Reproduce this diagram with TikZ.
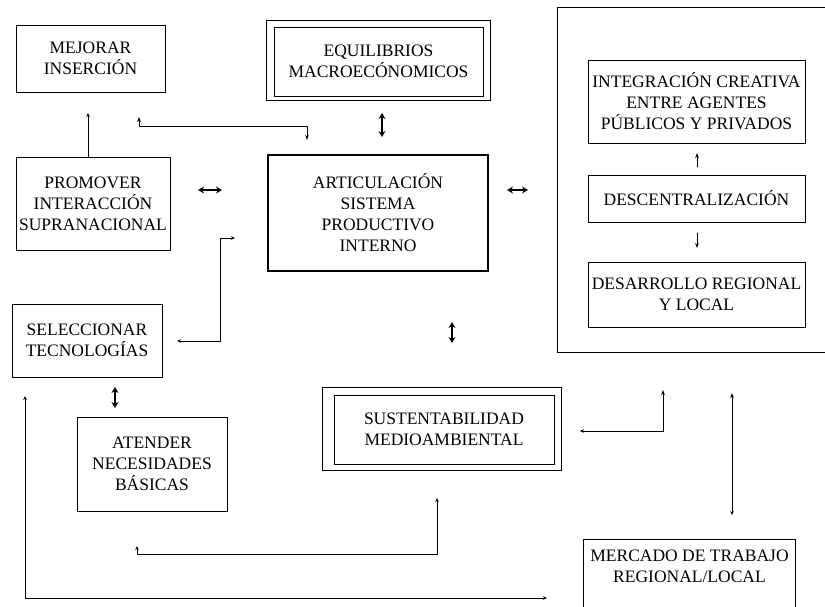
\documentclass[tikz,border=0pt]{standalone}
\usepackage{fontspec}
\setmainfont{Liberation Serif}
\usetikzlibrary{arrows.meta}

\begin{document}
\begin{tikzpicture}[x=1pt, y=-1pt, font=\fontsize{17.5}{21}\selectfont, line join=round, line cap=round,
		tipo/.tip={Stealth[open,length=4pt,width=3.6pt]},
		tipf/.tip={Stealth[length=5pt,width=3.6pt]},
		box/.style={draw, line width=0.8pt, line join=miter, align=center, inner sep=0pt},
		con/.style={line width=0.8pt},
		frame/.style={line width=0.8pt, line join=miter},
		dbl/.style={line width=1.4pt, {Stealth[open,length=6pt,width=7pt]}-{Stealth[open,length=6pt,width=7pt]}}]
		\path[use as bounding box, fill=white] (0,0) rectangle (825,606);
		\node[box, minimum width=149pt, minimum height=67pt] (mejorar) at (90.5,58.5) {MEJORAR\\INSERCIÓN};
		\node[box, minimum width=209pt, minimum height=69pt] (equil) at (378.5,61.5) {EQUILIBRIOS\\MACROECÓNOMICOS};
		\node[box, line width=2pt, minimum width=220pt, minimum height=116pt] (artic) at (378,213) {ARTICULACIÓN\\SISTEMA\\PRODUCTIVO\\INTERNO};
		\node[box, minimum width=154pt, minimum height=93pt] (prom) at (93,203.5) {PROMOVER\\INTERACCIÓN\\SUPRANACIONAL};
		\node[box, minimum width=150pt, minimum height=73pt] (selec) at (87,340.5) {SELECCIONAR\\TECNOLOGÍAS};
		\node[box, minimum width=150pt, minimum height=94pt] (atender) at (152,464) {ATENDER\\NECESIDADES\\BÁSICAS};
		\node[box, minimum width=220pt, minimum height=69pt] (sust) at (444,429.5) {SUSTENTABILIDAD\\MEDIOAMBIENTAL};
		\node[box, minimum width=217pt, minimum height=83pt] (integ) at (696.5,101.5) {INTEGRACIÓN CREATIVA\\ENTRE AGENTES\\PÚBLICOS Y PRIVADOS};
		\node[box, minimum width=217pt, minimum height=47pt] (descent) at (696.5,198.5) {DESCENTRALIZACIÓN};
		\node[box, minimum width=217pt, minimum height=65pt] (desarr) at (696.5,294.5) {DESARROLLO REGIONAL\\Y LOCAL};
		\node[align=center, inner sep=0pt, minimum width=211pt, minimum height=52pt] (mercado) at (689.5,566) {MERCADO DE TRABAJO\\REGIONAL/LOCAL};
		\draw[frame] ([shift={(-7pt,6pt)}]equil.north west) rectangle ([shift={(7pt,-4pt)}]equil.south east);
		\draw[frame] ([shift={(-11pt,7pt)}]sust.north west) rectangle ([shift={(7pt,-6pt)}]sust.south east);
		\draw[frame] (825,7) -| (557,352) -- (825,352);
		\draw[frame] ([yshift=-16pt]mercado.south west) |- (mercado.north east) -- ([yshift=-16pt]mercado.south east);
		\coordinate (mej-in) at (88,113);
		\coordinate (ins-a) at (139,117);
		\coordinate (ins-b) at (307,140);
		\coordinate (sel-a) at (177,341);
		\coordinate (sel-b) at (235,238);
		\coordinate (sus-a) at (580,431);
		\coordinate (sus-b) at (663,390);
		\coordinate (mer-a) at (732,393);
		\coordinate (mer-b) at (732,515);
		\coordinate (ate-a) at (137,546);
		\coordinate (ate-b) at (437,498);
		\coordinate (lon-a) at (25,396);
		\coordinate (lon-b) at (547,598);
		\draw[con, -tipo] (prom.north -| mej-in) -- (mej-in);
		\draw[con, tipf-tipf] (ins-a) -- ++(0,9) -| (ins-b);
		\draw[con, tipo-tipo] (sel-a) -- ++(43,0) |- (sel-b);
		\draw[con, tipo-tipf] (sus-a) -| (sus-b);
		\draw[con, tipf-tipo] (mer-a) -- (mer-b);
		\draw[con, tipo-tipo] (ate-a) -- ++(0,8) -| (ate-b);
		\draw[con, tipo-tipo] (lon-a) |- (lon-b);
		\draw[con, -tipf] (697,167) -- (697,153);
		\draw[con, -tipf] (697,233) -- (697,248);
		\draw[dbl] (198,190) -- (222,190);
		\draw[dbl] (507,190) -- (528,190);
		\draw[dbl] (382,113) -- (382,137);
		\draw[dbl] (452,322) -- (452,343);
		\draw[dbl] (115,387) -- (115,408);
\end{tikzpicture}
\end{document}
